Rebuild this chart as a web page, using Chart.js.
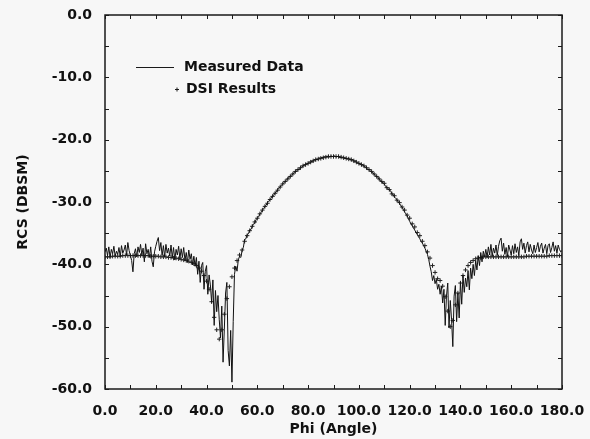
<!DOCTYPE html>
<html>
<head>
<meta charset="utf-8">
<title>RCS vs Phi</title>
<script src="https://cdn.jsdelivr.net/npm/chart.js@4.4.0/dist/chart.umd.min.js"></script>
<style>
  html, body { margin: 0; padding: 0; background: #f7f7f7; }
  #rcs_canvas { display: block; }
</style>
</head>
<body>
<canvas id="rcs_canvas" width="590" height="439"></canvas>
<script>
// measured RCS (dBsm), one sample every 0.5 deg from phi = 0 to 180
var measuredStep = 0.5;
var measuredRcs = [
  -38.0,-37.4,-38.6,-37.2,-38.9,-37.6,-38.3,-37.1,-38.7,-37.9,
  -38.4,-37.3,-38.8,-37.0,-38.2,-37.7,-36.9,-38.5,-36.5,-37.8,
  -38.6,-39.4,-41.2,-38.3,-37.5,-38.8,-37.2,-38.1,-36.8,-38.5,
  -37.4,-39.6,-36.7,-38.3,-37.6,-38.9,-37.2,-39.5,-40.4,-38.0,
  -37.1,-36.3,-35.7,-37.8,-36.5,-38.6,-37.0,-38.8,-36.8,-38.2,
  -37.4,-38.7,-36.9,-38.9,-37.3,-39.3,-37.6,-38.5,-37.1,-39.1,
  -37.5,-38.9,-37.3,-39.4,-38.1,-39.7,-37.7,-39.2,-38.3,-40.1,
  -38.7,-40.3,-38.9,-41.6,-39.5,-42.9,-40.2,-39.7,-44.0,-41.1,
  -40.2,-44.8,-41.7,-43.3,-46.1,-42.5,-49.8,-44.2,-47.6,-45.0,
  -48.9,-51.8,-46.7,-55.7,-50.4,-44.6,-42.9,-53.8,-56.3,-50.6,
  -58.9,-49.2,-41.6,-40.3,-41.1,-39.3,-38.7,-38.9,-37.8,-37.3,
  -36.0,-35.9,-35.2,-35.1,-34.5,-34.4,-33.9,-33.5,-33.4,-32.8,
  -32.6,-32.4,-31.9,-31.7,-31.3,-31.1,-30.7,-30.5,-30.1,-29.9,
  -29.6,-29.4,-29.0,-28.9,-28.5,-28.4,-28.0,-27.8,-27.6,-27.3,
  -27.1,-26.9,-26.7,-26.5,-26.2,-26.1,-25.8,-25.7,-25.5,-25.3,
  -25.1,-25.0,-24.8,-24.7,-24.5,-24.4,-24.2,-24.1,-24.0,-23.9,
  -23.8,-23.6,-23.7,-23.4,-23.5,-23.2,-23.3,-23.1,-23.2,-22.9,
  -23.0,-22.8,-22.9,-22.7,-22.8,-22.7,-22.6,-22.8,-22.6,-22.7,
  -22.7,-22.6,-22.8,-22.7,-22.7,-22.9,-22.8,-22.9,-22.9,-23.0,
  -23.0,-23.1,-23.0,-23.2,-23.3,-23.2,-23.5,-23.4,-23.6,-23.7,
  -23.8,-23.9,-24.1,-24.0,-24.3,-24.4,-24.5,-24.8,-24.8,-25.0,
  -25.2,-25.3,-25.6,-25.7,-25.9,-26.0,-26.4,-26.5,-26.8,-26.9,
  -27.1,-27.5,-27.6,-27.9,-28.1,-28.2,-28.7,-28.8,-29.2,-29.4,
  -29.6,-30.0,-30.2,-30.6,-30.8,-31.2,-31.6,-31.9,-32.2,-32.7,
  -33.1,-33.5,-33.8,-34.2,-34.5,-34.9,-35.2,-35.6,-35.9,-36.3,
  -36.6,-37.0,-37.4,-37.9,-38.4,-39.2,-40.3,-41.2,-42.6,-41.8,
  -43.1,-42.4,-44.0,-43.2,-44.8,-43.5,-46.2,-44.0,-49.8,-45.1,
  -43.0,-50.2,-45.8,-48.9,-53.2,-45.1,-43.4,-49.2,-44.6,-48.6,
  -42.8,-46.4,-41.7,-44.5,-42.2,-43.6,-41.0,-44.1,-40.6,-42.3,
  -40.0,-41.8,-39.4,-40.9,-38.6,-40.2,-38.1,-39.6,-37.9,-38.8,
  -37.6,-38.9,-37.2,-38.5,-36.8,-38.7,-37.4,-38.2,-36.9,-38.6,
  -37.1,-36.2,-35.8,-37.9,-36.6,-38.4,-37.3,-38.8,-36.9,-37.7,
  -38.5,-37.0,-38.3,-36.7,-38.1,-37.2,-38.6,-36.4,-35.9,-37.6,
  -36.6,-38.2,-37.0,-36.4,-38.0,-36.8,-37.7,-38.3,-36.9,-38.1,
  -37.3,-36.5,-38.0,-37.1,-36.6,-38.2,-37.4,-36.8,-38.3,-37.0,
  -36.7,-38.1,-37.3,-36.4,-37.9,-37.0,-38.2,-36.9,-37.6,-38.0,
  -37.8
];

// DSI computed results, one every 1 deg from phi = 0 to 180
var dsiStep = 1.0;
var dsiRcs = [
  -38.8,-38.8,-38.8,-38.7,-38.7,-38.7,-38.7,-38.6,-38.6,-38.6,
  -38.6,-38.6,-38.6,-38.6,-38.6,-38.6,-38.6,-38.6,-38.7,-38.7,
  -38.7,-38.7,-38.8,-38.8,-38.8,-38.9,-38.9,-39.0,-39.0,-39.1,
  -39.2,-39.3,-39.4,-39.5,-39.7,-39.9,-40.2,-40.6,-41.1,-41.8,
  -42.7,-44.0,-46.0,-48.5,-50.5,-52.0,-50.5,-48.0,-45.5,-43.6,
  -42.0,-40.6,-39.4,-38.5,-37.7,-36.3,-35.4,-34.6,-33.9,-33.2,
  -32.6,-31.9,-31.3,-30.7,-30.2,-29.6,-29.1,-28.6,-28.1,-27.6,
  -27.1,-26.7,-26.3,-25.9,-25.5,-25.1,-24.8,-24.5,-24.2,-24.0,
  -23.8,-23.6,-23.4,-23.2,-23.1,-23.0,-22.9,-22.8,-22.7,-22.7,
  -22.7,-22.7,-22.7,-22.8,-22.9,-23.0,-23.1,-23.2,-23.4,-23.6,
  -23.8,-24.0,-24.2,-24.5,-24.8,-25.1,-25.5,-25.9,-26.3,-26.7,
  -27.0,-27.7,-28.0,-28.7,-29.0,-29.7,-30.1,-30.8,-31.3,-32.1,
  -32.6,-33.5,-34.0,-34.9,-35.4,-36.3,-37.0,-38.0,-39.0,-40.2,
  -41.3,-42.3,-42.6,-43.5,-45.2,-47.5,-50.0,-49.0,-46.5,-44.6,
  -43.0,-41.8,-40.9,-40.2,-39.7,-39.4,-39.1,-39.0,-38.9,-38.8,
  -38.8,-38.8,-38.8,-38.8,-38.8,-38.8,-38.8,-38.8,-38.8,-38.8,
  -38.8,-38.8,-38.8,-38.8,-38.8,-38.8,-38.7,-38.7,-38.7,-38.7,
  -38.7,-38.7,-38.7,-38.7,-38.7,-38.6,-38.6,-38.6,-38.6,-38.6,
  -38.6
];

var phiMin = 0, phiMax = 180, phiStep = 20;
var rcsMin = -60, rcsMax = 0, rcsStep = 10;
var legendLabels = ['Measured Data', 'DSI Results'];

var fontFam = "'DejaVu Sans', sans-serif";
var ink = '#111';

function toPoints(values, step) {
    var pts = [];
    for (var i = 0; i < values.length; i++) {
        pts.push({ x: i * step, y: values[i] });
    }
    return pts;
}

// box round the plot, inward ticks and the little legend
var frameTicks = {
    id: 'frameTicks',
    afterDatasetsDraw: function (chart) {
        var ctx = chart.ctx;
        var a = chart.chartArea;
        var xs = chart.scales.x, ys = chart.scales.y;
        ctx.save();
        ctx.strokeStyle = '#1a1a1a';
        ctx.lineWidth = 1.5;
        ctx.strokeRect(a.left, a.top, a.right - a.left, a.bottom - a.top);

        ctx.lineWidth = 1;
        ctx.beginPath();
        for (var p = phiMin; p <= phiMax; p += 10) {
            var px = Math.round(xs.getPixelForValue(p)) + 0.5;
            ctx.moveTo(px, a.bottom); ctx.lineTo(px, a.bottom - 4);
            ctx.moveTo(px, a.top); ctx.lineTo(px, a.top + 4);
        }
        for (var r = rcsMin; r <= rcsMax; r += 5) {
            var py = Math.round(ys.getPixelForValue(r)) + 0.5;
            ctx.moveTo(a.left, py); ctx.lineTo(a.left + 4, py);
            ctx.moveTo(a.right, py); ctx.lineTo(a.right - 4, py);
        }
        ctx.stroke();

        // legend
        ctx.font = 'bold 14px ' + fontFam;
        ctx.fillStyle = ink;
        ctx.textBaseline = 'middle';
        ctx.textAlign = 'left';
        ctx.beginPath();
        ctx.moveTo(136, 67.5); ctx.lineTo(174, 67.5);
        ctx.stroke();
        ctx.fillText(legendLabels[0], 184, 67);
        ctx.beginPath();
        ctx.moveTo(175, 89.5); ctx.lineTo(179, 89.5);
        ctx.moveTo(177, 87.5); ctx.lineTo(177, 91.5);
        ctx.stroke();
        ctx.fillText(legendLabels[1], 186, 89);
        ctx.restore();
    }
};

var chartdata = {
    datasets: [
        {
            label: legendLabels[0],
            data: toPoints(measuredRcs, measuredStep),
            borderColor: ink,
            borderWidth: 1,
            pointRadius: 0,
            tension: 0,
            fill: false
        },
        {
            label: legendLabels[1],
            data: toPoints(dsiRcs, dsiStep),
            showLine: false,
            pointStyle: 'cross',
            pointRadius: 2.2,
            pointBorderWidth: 1,
            pointBorderColor: '#222',
            borderColor: '#222'
        }
    ]
};

var tickFont = { family: fontFam, size: 14, weight: 'bold' };

var options = {
    responsive: false,
    animation: false,
    events: [],
    layout: { padding: { top: 15, right: 28, left: 0, bottom: 0 } },
    plugins: {
        legend: { display: false },
        tooltip: { enabled: false }
    },
    scales: {
        x: {
            type: 'linear',
            min: phiMin,
            max: phiMax,
            grid: { display: false, drawTicks: false },
            border: { display: false },
            afterFit: function (scale) {
                scale.height = 50;
                scale.paddingLeft = 0;
                scale.paddingRight = 0;
            },
            ticks: {
                stepSize: phiStep,
                padding: 14,
                color: ink,
                font: tickFont,
                maxRotation: 0,
                callback: function (v) { return v.toFixed(1); }
            },
            title: {
                display: true,
                text: 'Phi (Angle)',
                color: ink,
                font: tickFont,
                padding: { top: 0, bottom: 1 }
            }
        },
        y: {
            type: 'linear',
            min: rcsMin,
            max: rcsMax,
            grid: { display: false, drawTicks: false },
            border: { display: false },
            afterFit: function (scale) {
                scale.width = 105;
                scale.paddingTop = 0;
                scale.paddingBottom = 0;
            },
            ticks: {
                stepSize: rcsStep,
                padding: 13,
                color: ink,
                font: tickFont,
                callback: function (v) { return v.toFixed(1); }
            },
            title: {
                display: true,
                text: 'RCS (DBSM)',
                color: ink,
                font: tickFont,
                padding: { top: 15, bottom: 0 }
            }
        }
    }
};

var ctx1 = document.getElementById('rcs_canvas');
var chart = new Chart(ctx1, {
    type: 'line',
    data: chartdata,
    options: options,
    plugins: [frameTicks]
});
</script>
</body>
</html>
